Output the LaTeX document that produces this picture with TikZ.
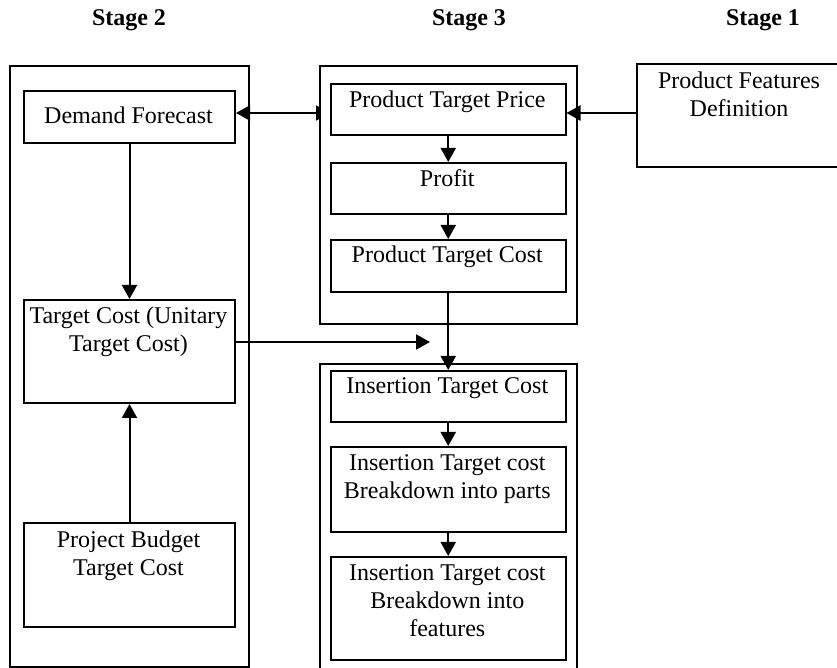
\documentclass[tikz,border=0pt]{standalone}
\usepackage{fontspec}
\setmainfont{Liberation Serif}
\usetikzlibrary{arrows.meta,backgrounds}
% centred multi-line text whose baseline is the first line
\newcommand\stacklines[1]{\begin{tabular}[t]{@{}c@{}}#1\end{tabular}}

\begin{document}
\begin{tikzpicture}[x=0.5pt,y=-0.5pt,
  frame/.style={draw,line width=1pt,inner sep=0pt,anchor=north west},
  txt/.style={anchor=base,inner sep=0pt,font=\fontsize{12pt}{14pt}\selectfont},
  head/.style={anchor=base,inner sep=0pt,font=\fontsize{12pt}{14pt}\selectfont\bfseries},
  tip/.style={Triangle[length=7pt,width=7.5pt]},
  conn/.style={line width=1pt,-{Triangle[length=7pt,width=7.5pt]}}]

\clip (0,0) rectangle (837,668);

% stage headings
\node[head] (s2) at (129,26) {Stage 2};
\node[head] (s3) at (469,26) {Stage 3};
\node[head] (s1) at (763,26) {Stage 1};

% stage 2 column
\node[frame,minimum width=119.75pt,minimum height=300.5pt] (lout) at (8.5,65) {};
\node[frame,minimum width=105.5pt,minimum height=26pt] (df) at (23,90) {};
\node[frame,minimum width=105.5pt,minimum height=51.5pt] (tc) at (23,299) {};
\node[frame,minimum width=105.5pt,minimum height=52pt] (pb) at (23,522) {};

% stage 3 column
\node[frame,fill=white,minimum width=128.25pt,minimum height=129pt] (mtop) at (319,65) {};
\node[frame,minimum width=117.25pt,minimum height=25.5pt] (ptp) at (330,83) {};
\node[frame,minimum width=117.25pt,minimum height=25.5pt] (profit) at (330,162) {};
\node[frame,minimum width=117.25pt,minimum height=26pt] (ptc) at (330,239) {};
\node[frame,minimum width=128.5pt,minimum height=170pt] (mbot) at (318.5,363) {};
\node[frame,minimum width=117.25pt,minimum height=25.5pt] (itc) at (330,370) {};
\node[frame,minimum width=117.25pt,minimum height=42.5pt] (parts) at (330,446) {};
\node[frame,minimum width=117.25pt,minimum height=51.5pt] (feat) at (330,556) {};

% stage 1
\node[frame,minimum width=103pt,minimum height=51.5pt] (pfd) at (636,63) {};

% box texts
\node[txt] (df-t) at (128.5,124) {Demand Forecast};
\node[txt] (tc-t) at (128.5,324) {\stacklines{Target Cost (Unitary\\Target Cost)}};
\node[txt] (pb-t) at (128.5,548) {\stacklines{Project Budget\\Target Cost}};
\node[txt] (ptp-t) at (447.3,108) {Product Target Price};
\node[txt] (profit-t) at (447.3,187) {Profit};
\node[txt] (ptc-t) at (447.3,263) {Product Target Cost};
\node[txt] (itc-t) at (447.3,394) {Insertion Target Cost};
\node[txt] (parts-t) at (447.3,471) {\stacklines{Insertion Target cost\\Breakdown into parts}};
\node[txt] (feat-t) at (447.3,581) {\stacklines{Insertion Target cost\\Breakdown into\\features}};
\node[txt] (pfd-t) at (739,89) {\stacklines{Product Features\\Definition}};

% connectors
\coordinate (rowy) at (0,113);
\coordinate (tcend) at (430,342);
\begin{scope}[on background layer]
  \draw[line width=1pt,{Triangle[length=7pt,width=7.5pt]}-{Triangle[length=7pt,width=7.5pt]}]
    (df.east |- rowy) -- (ptp.west |- rowy);
\end{scope}
\draw[conn] (pfd.west |- rowy) -- (ptp.east |- rowy);
\draw[conn] (df.south) -- (tc.north);
\draw[conn] (pb.north) -- (tc.south);
\draw[conn] (tc.east |- tcend) -- (tcend);
\draw[conn] (ptp.south) -- (profit.north);
\draw[conn] (profit.south) -- (ptc.north);
\draw[conn] (ptc.south) -- (itc.north);
\draw[conn] (itc.south) -- (parts.north);
\draw[conn] (parts.south) -- (feat.north);
\end{tikzpicture}
\end{document}
